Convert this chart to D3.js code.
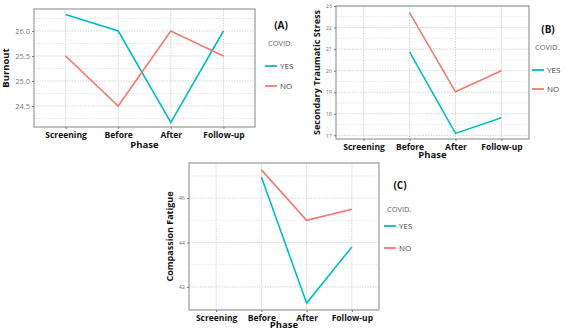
<!DOCTYPE html>
<html><head><meta charset="utf-8">
<script src="https://cdn.jsdelivr.net/npm/d3@7"></script>
<style>body{margin:0;background:#fff}svg{display:block}</style>
</head><body>
<svg id="c" width="567" height="331"></svg>
<script>
const phases = ["Screening","Before","After","Follow-up"];
const groups = ["YES","NO"];
const burnoutYes = [26.33, 26.0, 24.17, 26.0];
const burnoutNo  = [25.5, 24.5, 26.0, 25.5];
const stsYes = [null, 20.87, 17.09, 17.82];
const stsNo  = [null, 22.69, 19.02, 20.0];
const cfYes = [null, 46.95, 41.27, 43.8];
const cfNo  = [null, 47.27, 45.0, 45.5];
const burnoutTicks = [24.5, 25.0, 25.5, 26.0];
const stsTicks = [17, 18, 19, 20, 21, 22, 23];
const cfTicks = [42, 44, 46];
const colors = {YES:"#00BFC4", NO:"#F8766D"};

const svg = d3.select("#c");
const FONT = "'Open Sans', sans-serif";

function panel(o){
  const g = svg.append("g");
  const x = d3.scalePoint().domain(phases).range([o.x0, o.x1]).padding(0.6);
  const y = d3.scaleLinear().domain(o.ydom).range([o.y1, o.y0]);
  const minors = [];
  for (let i = 0; i < o.ticks.length - 1; i++) minors.push((o.ticks[i] + o.ticks[i+1]) / 2);
  const step = o.ticks[1] - o.ticks[0];
  minors.push(o.ticks[0] - step/2, o.ticks[o.ticks.length-1] + step/2);
  g.selectAll(".mg").data(minors.filter(v => v > o.ydom[0] && v < o.ydom[1])).join("line")
    .attr("x1", o.x0).attr("x2", o.x1).attr("y1", d => y(d)).attr("y2", d => y(d))
    .attr("stroke", "#d8d8d8").attr("stroke-width", 0.7).attr("stroke-dasharray", "1.2,1.2");
  g.selectAll(".gy").data(o.ticks).join("line")
    .attr("x1", o.x0).attr("x2", o.x1).attr("y1", d => y(d)).attr("y2", d => y(d))
    .attr("stroke", "#cfcfcf").attr("stroke-width", 0.9).attr("stroke-dasharray", "1.5,1.2");
  g.selectAll(".gx").data(phases).join("line")
    .attr("x1", d => x(d)).attr("x2", d => x(d)).attr("y1", o.y0).attr("y2", o.y1)
    .attr("stroke", "#cfcfcf").attr("stroke-width", 0.9).attr("stroke-dasharray", "1.5,1.2");
  g.append("rect").attr("x", o.x0).attr("y", o.y0).attr("width", o.x1 - o.x0).attr("height", o.y1 - o.y0)
    .attr("fill", "none").attr("stroke", "#9a9a9a").attr("stroke-width", 1.2);
  const ay = g.append("g").attr("transform", `translate(${o.x0},0)`)
    .call(d3.axisLeft(y).tickValues(o.ticks).tickSize(2).tickPadding(2).tickFormat(o.fmt));
  ay.select(".domain").remove();
  ay.selectAll("line").attr("stroke", "#777");
  ay.selectAll("text").attr("font-family", FONT).attr("font-size", o.tfs).attr("fill", "#777");
  const ax = g.append("g").attr("transform", `translate(0,${o.y1})`)
    .call(d3.axisBottom(x).tickSize(2).tickPadding(o.xpad));
  ax.select(".domain").remove();
  ax.selectAll("line").attr("stroke", "#777");
  ax.selectAll("text").attr("font-family", FONT).attr("font-size", 8.5).attr("font-weight", "bold").attr("fill", "#111");
  g.append("text").attr("x", (o.x0 + o.x1) / 2).attr("y", o.phaseY).attr("text-anchor", "middle")
    .attr("font-family", FONT).attr("font-size", 9.5).attr("font-weight", "bold").attr("fill", "#111").text("Phase");
  g.append("text").attr("transform", `translate(${o.ytx},${(o.y0 + o.y1) / 2}) rotate(-90)`)
    .attr("text-anchor", "middle").attr("font-family", FONT).attr("font-size", o.yfs).attr("font-weight", "bold")
    .attr("fill", "#111").text(o.ytitle);
  const line = d3.line().defined(d => d.v != null).x(d => x(d.p)).y(d => y(d.v));
  [["YES", o.yes], ["NO", o.no]].forEach(([k, vals]) => {
    g.append("path").datum(phases.map((p, i) => ({p, v: vals[i]})))
      .attr("d", line).attr("fill", "none").attr("stroke", colors[k]).attr("stroke-width", 1.6);
  });
  g.append("text").attr("x", o.lx + 13).attr("y", o.ly).attr("text-anchor", "middle")
    .attr("font-family", FONT).attr("font-size", 10).attr("font-weight", "bold").attr("fill", "#111").text(o.label);
  g.append("text").attr("x", o.lx).attr("y", o.ly + o.cov).attr("font-family", FONT).attr("font-size", 7.5)
    .attr("fill", "#666").text("COVID.");
  groups.forEach((k, i) => {
    const yy = o.ly + 37 + i * o.lgap;
    g.append("line").attr("x1", o.lx - 3).attr("x2", o.lx + 9).attr("y1", yy).attr("y2", yy)
      .attr("stroke", colors[k]).attr("stroke-width", 1.8);
    g.append("text").attr("x", o.lx + 12).attr("y", yy + 2.8).attr("font-family", FONT).attr("font-size", 8)
      .attr("fill", "#444").text(k);
  });
}

panel({x0:34, x1:255, y0:9, y1:127, ydom:[24.08, 26.44], ticks:burnoutTicks, fmt:d3.format(".1f"),
  yes:burnoutYes, no:burnoutNo, tfs:7.5, xpad:3, phaseY:148, ytx:9, yfs:9.5, ytitle:"Burnout",
  label:"(A)", lx:268, ly:29, cov:17, lgap:20});
panel({x0:336, x1:529, y0:6, y1:139, ydom:[16.83, 23.0], ticks:stsTicks, fmt:d3.format("d"),
  yes:stsYes, no:stsNo, tfs:5.5, xpad:3, phaseY:158, ytx:320, yfs:9, ytitle:"Secondary Traumatic Stress",
  label:"(B)", lx:535, ly:33, cov:17, lgap:19});
panel({x0:189, x1:379, y0:163, y1:310, ydom:[40.96, 47.58], ticks:cfTicks, fmt:d3.format("d"),
  yes:cfYes, no:cfNo, tfs:5.5, xpad:3, phaseY:328, ytx:173, yfs:9, ytitle:"Compassion Fatigue",
  label:"(C)", lx:387, ly:189, cov:23, lgap:22});
</script>
</body></html>
